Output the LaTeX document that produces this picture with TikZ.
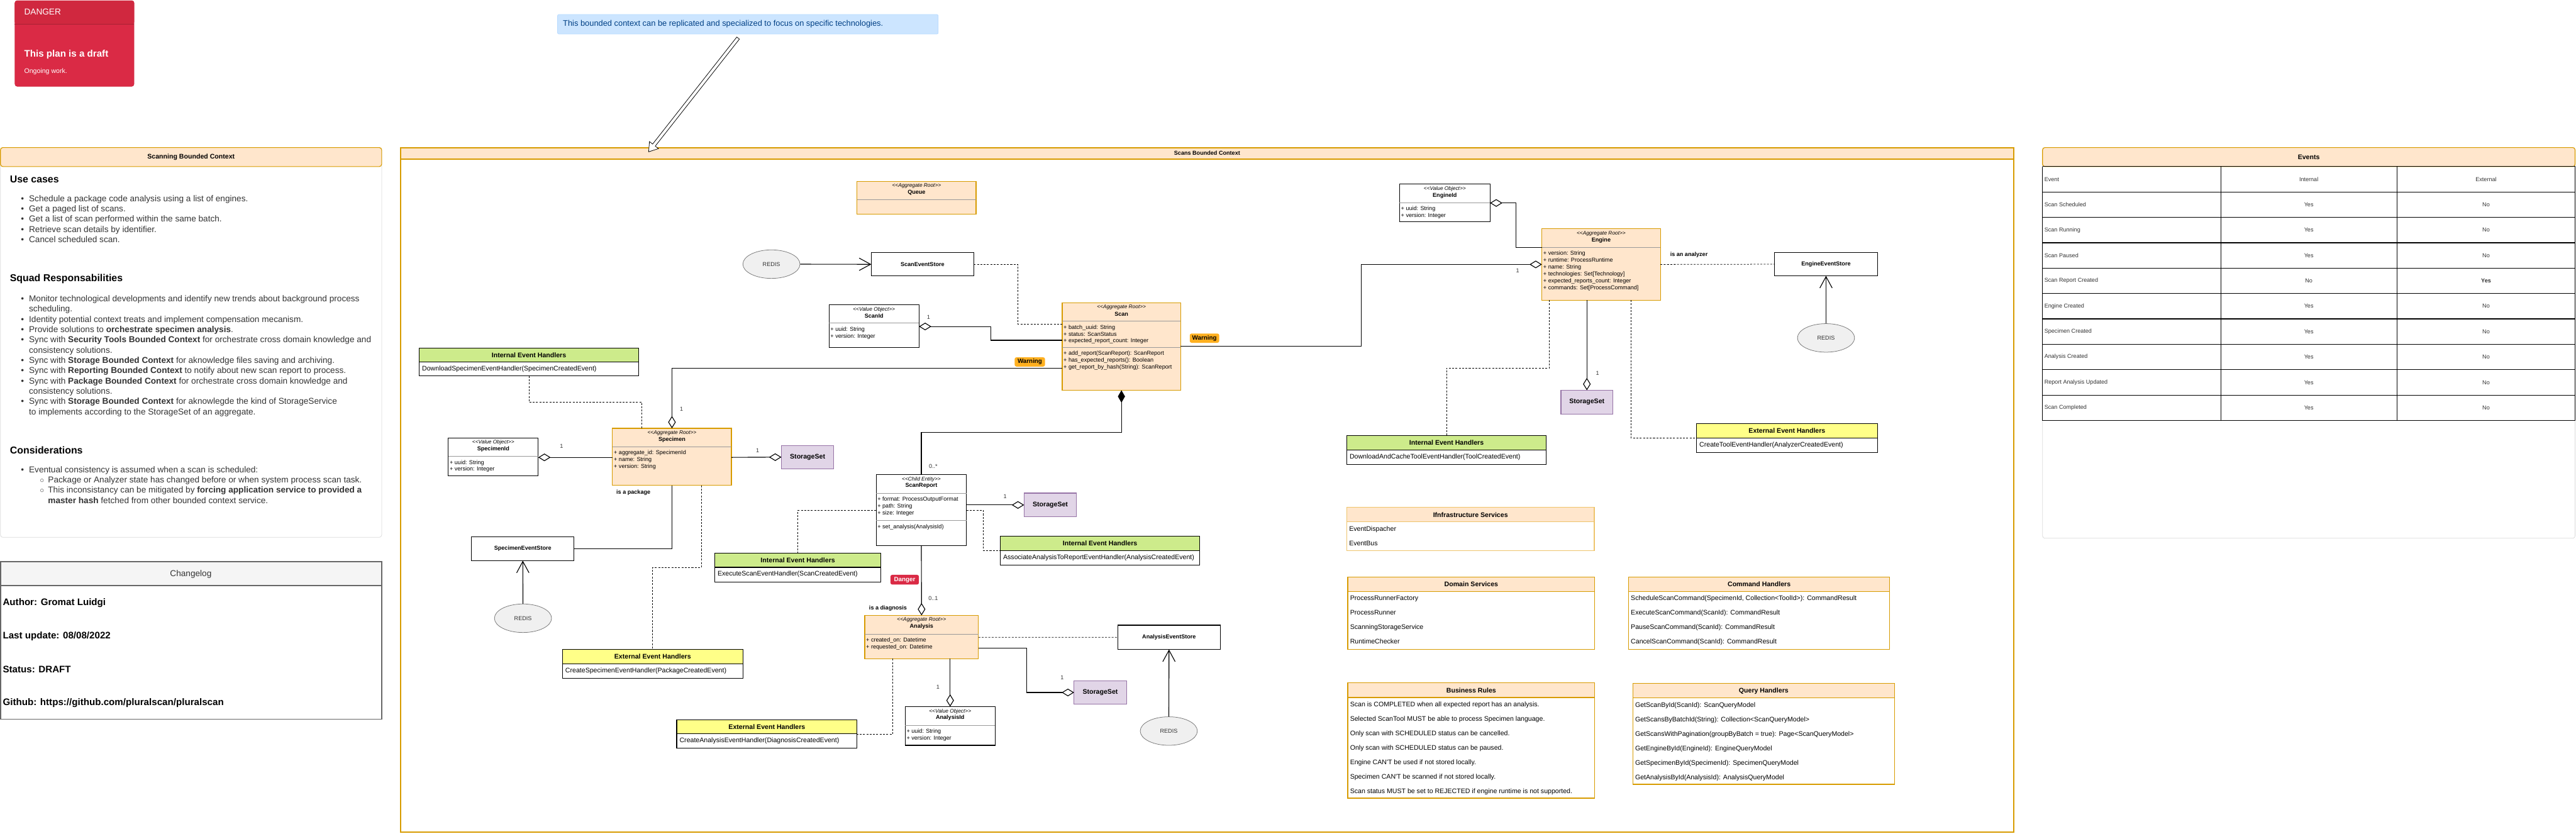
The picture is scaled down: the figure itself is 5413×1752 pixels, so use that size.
\documentclass[tikz,border=0pt]{standalone}
\usepackage{fontspec}
\setmainfont{Liberation Sans}
\usepackage{tikz}
\usetikzlibrary{arrows.meta,calc,positioning,shapes.geometric}

\definecolor{aggfill}{HTML}{FFE6CC}
\definecolor{aggline}{HTML}{D79B00}
\definecolor{infraline}{HTML}{EEC46C}
\definecolor{setfill}{HTML}{E1D5E7}
\definecolor{setline}{HTML}{9673A6}
\definecolor{ihfill}{HTML}{CDEB8B}
\definecolor{ehfill}{HTML}{FFFF88}
\definecolor{redisfill}{HTML}{F0F0F0}
\definecolor{redisline}{HTML}{777777}
\definecolor{dangerbg}{HTML}{DA2A45}
\definecolor{dangerhd}{HTML}{D0283F}
\definecolor{warnbg}{HTML}{FFB020}
\definecolor{notebg}{HTML}{CCE5FF}
\definecolor{noteline}{HTML}{B8DAFF}
\definecolor{notetxt}{HTML}{004085}
\definecolor{panelline}{HTML}{DADADA}
\definecolor{logbg}{HTML}{F5F5F5}
\definecolor{logline}{HTML}{666666}
\definecolor{bodytxt}{HTML}{333333}
\definecolor{divgray}{HTML}{999999}

\tikzset{
  txt/.style={inner sep=0pt, outer sep=0pt},
  stereo/.style={txt, font=\fontsize{11}{13}\selectfont\itshape},
  cname/.style={txt, font=\fontsize{12}{14}\selectfont\bfseries},
  attr/.style={txt, anchor=west, font=\fontsize{12}{14}\selectfont, text height=9pt, text depth=3pt},
  lbl/.style={txt, font=\fontsize{12}{14}\selectfont, text=bodytxt},
  blbl/.style={txt, font=\fontsize{12}{14}\selectfont\bfseries},
  htitle/.style={txt, font=\fontsize{14}{16}\selectfont\bfseries},
  hitem/.style={txt, anchor=west, font=\fontsize{14}{16}\selectfont, text height=10.5pt, text depth=3.5pt},
  aggbox/.style={draw=aggline, fill=aggfill, line width=1.5pt, inner sep=0pt, outer sep=0pt},
  vobox/.style={draw=black, fill=white, line width=1.5pt, inner sep=0pt, outer sep=0pt},
  storebox/.style={vobox, font=\fontsize{12}{14}\selectfont\bfseries, minimum width=215, minimum height=49},
  setbox/.style={draw=setline, fill=setfill, line width=1.5pt, inner sep=0pt, outer sep=0pt, font=\fontsize{14}{16}\selectfont\bfseries, minimum width=110, minimum height=49},
  redis/.style={ellipse, draw=redisline, fill=redisfill, line width=1pt, minimum width=120, minimum height=60, inner sep=0pt, font=\fontsize{12}{14}\selectfont, text=bodytxt},
  badge/.style={rounded corners=4pt, inner sep=0pt, font=\fontsize{13}{15}\selectfont\bfseries},
  divl/.style={divgray, line width=1pt},
  conn/.style={draw=black, line width=1.5pt},
  dashc/.style={draw=black, line width=1pt, dash pattern=on 4pt off 3pt},
  aggr/.style={conn, {Diamond[open,length=26pt,width=16pt]}-},
  aggrend/.style={conn, -{Diamond[open,length=26pt,width=16pt]}},
  comp/.style={conn, {Diamond[length=26pt,width=15pt]}-},
  feed/.style={conn, -{Straight Barb[length=24pt,width=26pt]}},
  cell/.style={txt, font=\fontsize{12}{14}\selectfont, text=bodytxt}
}

\newcommand{\umlclass}[8]{%
  \node[#5, minimum width=#3, minimum height=#4, anchor=north west] (#1) at (#2) {};
  \node[stereo] (#1-st) at ($(#1.north)+(0,10)$) {<{}<#6>{}>};
  \node[cname] (#1-nm) at ($(#1.north)+(0,24)$) {#7};
  \draw[divl] ($(#1.north west)+(0,39)$) -- ($(#1.north east)+(0,39)$);
  \foreach \fld [count=\row] in {#8}
    \node[attr] (#1-a\row) at ($(#1.north west)+(3,{38+14.4*\row})$) {\fld};
}
\newcommand{\handler}[7]{%
  \node[vobox, minimum width=#3, minimum height=#4, anchor=north west] (#1) at (#2) {};
  \draw[line width=1.5pt, fill=#5] (#1.north west) rectangle ($(#1.north east)+(0,30)$);
  \node[htitle] (#1-t) at ($(#1.north)+(0,15)$) {#6};
  \node[hitem] (#1-e) at ($(#1.north west)+(6,45)$) {#7};
}
\newcommand{\svcbox}[7]{%
  \node[draw=#5, fill=white, line width=1.5pt, inner sep=0pt, outer sep=0pt, minimum width=#3, minimum height=#4, anchor=north west] (#1) at (#2) {};
  \draw[draw=#5, fill=aggfill, line width=1.5pt] (#1.north west) rectangle ($(#1.north east)+(0,30.5)$);
  \node[htitle] (#1-t) at ($(#1.north)+(0,15.5)$) {#6};
  \foreach \fld [count=\row] in {#7}
    \node[hitem] (#1-i\row) at ($(#1.north west)+(5,{16.1+30.4*\row})$) {\fld};
}
\newcommand{\pbul}{\strut\makebox[17pt][l]{\textbullet}}
\newcommand{\pcont}{\strut\hspace*{17pt}}
\newcommand{\psub}{\strut\hspace*{40pt}\makebox[17pt][l]{$\circ$}}
\newcommand{\psubc}{\strut\hspace*{57pt}}

\begin{document}
\begin{tikzpicture}[x=1pt, y=-1pt]
\useasboundingbox (0,0) rectangle (5413,1752);

\node[draw=dangerhd, fill=dangerbg, rounded corners=5pt, line width=1pt, inner sep=0pt, minimum width=250, minimum height=180, anchor=north west] (danger) at (31,1) {};
\fill[dangerhd, rounded corners=5pt] (danger.north west) rectangle ($(danger.north east)+(0,50)$);
\draw[dangerhd!80!black, line width=1pt] ($(danger.north west)+(0,50)$) -- ($(danger.north east)+(0,50)$);
\node[txt, anchor=west, text=white, font=\fontsize{18}{21}\selectfont] (danger-h) at (51,25) {DANGER};
\node[txt, anchor=west, text=white, font=\fontsize{20}{24}\selectfont\bfseries] (danger-t) at (51,114) {This plan is a draft};
\node[txt, anchor=west, text=white, font=\fontsize{14}{16}\selectfont] (danger-s) at (51,151) {Ongoing work.};

\node[draw=noteline, fill=notebg, rounded corners=3pt, line width=1pt, inner sep=0pt, minimum width=800, minimum height=41, anchor=north west] (note) at (1171,30) {};
\node[txt, anchor=west, text=notetxt, font=\fontsize{17}{20}\selectfont] (note-t) at (1183,50.5) {This bounded context can be replicated and specialized to focus on specific technologies.};

\draw[panelline, line width=1pt, rounded corners=5pt] (1,310) rectangle (802,1129);
\filldraw[fill=aggfill, draw=aggline, line width=1.5pt, rounded corners=5pt] (1,310) rectangle (802,350);
\node[htitle] (scanning-t) at (401.5,330) {Scanning Bounded Context};
\node[txt, anchor=west, font=\fontsize{21}{25}\selectfont\bfseries] (uc-h) at (21,377) {Use cases};
\node[txt, anchor=north west, align=left, text=bodytxt, font=\fontsize{18}{21.6}\selectfont] (uc-l) at (44,408) {%
\pbul Schedule a package code analysis using a list of engines.\\
\pbul Get a paged list of scans.\\
\pbul Get a list of scan performed within the same batch.\\
\pbul Retrieve scan details by identifier.\\
\pbul Cancel scheduled scan.};
\node[txt, anchor=west, font=\fontsize{21}{25}\selectfont\bfseries] (sq-h) at (21,586) {Squad Responsabilities};
\node[txt, anchor=north west, align=left, text=bodytxt, font=\fontsize{18}{21.6}\selectfont] (sq-l) at (44,618.4) {%
\pbul Monitor technological developments and identify new trends about background process\\
\pcont scheduling.\\
\pbul Identity potential context treats and implement compensation mecanism.\\
\pbul Provide solutions to \textbf{orchestrate specimen analysis}.\\
\pbul Sync with \textbf{Security Tools Bounded Context} for orchestrate cross domain knowledge and\\
\pcont consistency solutions.\\
\pbul Sync with \textbf{Storage Bounded Context} for aknowledge files saving and archiving.\\
\pbul Sync with \textbf{Reporting Bounded Context} to notify about new scan report to process.\\
\pbul Sync with \textbf{Package Bounded Context} for orchestrate cross domain knowledge and\\
\pcont consistency solutions.\\
\pbul Sync with \textbf{Storage Bounded Context} for aknowlegde the kind of StorageService\\
\pcont to implements according to the StorageSet of an aggregate.};
\node[txt, anchor=west, font=\fontsize{21}{25}\selectfont\bfseries] (co-h) at (21,946) {Considerations};
\node[txt, anchor=north west, align=left, text=bodytxt, font=\fontsize{18}{21.6}\selectfont] (co-l) at (44,977.4) {%
\pbul Eventual consistency is assumed when a scan is scheduled:\\
\psub Package or Analyzer state has changed before or when system process scan task.\\
\psub This inconsistancy can be mitigated by \textbf{forcing application service to provided a}\\
\psubc\textbf{master hash} fetched from other bounded context service.};

\filldraw[fill=logbg, draw=logline, line width=2pt] (1,1180) rectangle (802,1230);
\draw[logline, line width=2pt] (1,1230) rectangle (802,1511);
\node[txt, text=bodytxt, font=\fontsize{18}{21}\selectfont] (log-t) at (401,1206) {Changelog};
\node[txt, anchor=west, font=\fontsize{20}{24}\selectfont\bfseries] (log-a) at (6,1267) {Author: Gromat Luidgi};
\node[txt, anchor=west, font=\fontsize{20}{24}\selectfont\bfseries] (log-u) at (6,1337) {Last update: 08/08/2022};
\node[txt, anchor=west, font=\fontsize{20}{24}\selectfont\bfseries] (log-s) at (6,1407) {Status: DRAFT};
\node[txt, anchor=west, font=\fontsize{20}{24}\selectfont\bfseries] (log-g) at (6,1477) {Github: https://github.com/pluralscan/pluralscan};

\draw[aggline, line width=2.5pt] (842,310) rectangle (4231,1748);
\filldraw[fill=aggfill, draw=aggline, line width=2.5pt] (842,310) rectangle (4231,334);
\node[cname] (scans-t) at (2536.5,322) {Scans Bounded Context};

\coordinate (arrTail) at (1551,80);
\coordinate (arrTip) at (1363,319);
\coordinate (arrBase) at ($(arrTip)!18pt!(arrTail)$);
\filldraw[fill=white, draw=black, line width=1pt] ($(arrTail)!3.5pt!90:(arrTip)$) -- ($(arrBase)!3.5pt!90:(arrTip)$) -- ($(arrBase)!12pt!90:(arrTip)$) -- (arrTip) -- ($(arrBase)!12pt!-90:(arrTip)$) -- ($(arrBase)!3.5pt!-90:(arrTip)$) -- ($(arrTail)!3.5pt!-90:(arrTip)$) -- cycle;

\node[aggbox, minimum width=250, minimum height=69, anchor=north west] (queue) at (1801,381) {};
\node[stereo] (queue-st) at ($(queue.north)+(0,10)$) {<{}<Aggregate Root>{}>};
\node[cname] (queue-nm) at ($(queue.north)+(0,24)$) {Queue};
\draw[divl] ($(queue.north west)+(0,38)$) -- ($(queue.north east)+(0,38)$);

\umlclass{scan}{2232,636}{249}{184}{aggbox}{Aggregate Root}{Scan}{+ batch\_uuid: String, + status: ScanStatus, + expected\_report\_count: Integer}
\draw[divl] ($(scan.north west)+(0,94.6)$) -- ($(scan.north east)+(0,94.6)$);
\foreach \fld [count=\row] in {+ add\_report(ScanReport): ScanReport, + has\_expected\_reports(): Boolean, + get\_report\_by\_hash(String): ScanReport}
  \node[attr] (scan-m\row) at ($(scan.north west)+(3,{92.6+14.6*\row})$) {\fld};
\umlclass{scanId}{1742,640}{189}{90}{vobox}{Value Object}{ScanId}{+ uuid: String, + version: Integer}
\umlclass{specimen}{1287,900}{250}{120}{aggbox}{Aggregate Root}{Specimen}{+ aggregate\_id: SpecimenId, + name: String, + version: String}
\umlclass{specimenId}{942,920}{189}{80}{vobox}{Value Object}{SpecimenId}{+ uuid: String, + version: Integer}
\umlclass{engine}{3240,480.6}{249}{150}{aggbox}{Aggregate Root}{Engine}{+ version: String, + runtime: ProcessRuntime, + name: String, + technologies: Set[Technology], + expected\_reports\_count: Integer, + commands: Set[ProcessCommand]}
\umlclass{engineId}{2941,387}{190}{79}{vobox}{Value Object}{EngineId}{+ uuid: String, + version: Integer}
\umlclass{scanReport}{1841,997}{190}{149}{vobox}{Child Entity}{ScanReport}{+ format: ProcessOutputFormat, + path: String, + size: Integer}
\draw[divl] ($(scanReport.north west)+(0,96.5)$) -- ($(scanReport.north east)+(0,96.5)$);
\node[attr] (scanReport-m1) at ($(scanReport.north west)+(3,110.6)$) {+ set\_analysis(AnalysisId)};
\umlclass{analysis}{1817,1293}{239}{91}{aggbox}{Aggregate Root}{Analysis}{+ created\_on: Datetime, + requested\_on: Datetime}
\umlclass{analysisId}{1902,1484.7}{189}{81.3}{vobox}{Value Object}{AnalysisId}{+ uuid: String, + version: Integer}

\node[storebox, anchor=north west] (scanStore) at (1831,531) {ScanEventStore};
\node[storebox, anchor=north west, minimum height=50.5] (specStore) at (991,1127.5) {SpecimenEventStore};
\node[storebox, anchor=north west, minimum height=51] (anStore) at (2349,1313.6) {AnalysisEventStore};
\node[storebox, anchor=north west, minimum width=216] (engStore) at (3729,530.6) {EngineEventStore};

\node[redis] (redisScan) at (1621,555) {REDIS};
\node[redis] (redisSpec) at (1099,1299) {REDIS};
\node[redis] (redisAn) at (2456,1536) {REDIS};
\node[redis] (redisEng) at (3837,710) {REDIS};

\node[setbox, anchor=north west] (setSpecimen) at (1642,936) {StorageSet};
\node[setbox, anchor=north west, minimum height=50] (setReport) at (2152,1036) {StorageSet};
\node[setbox, anchor=north west, minimum height=50] (setAnalysis) at (2257,1430) {StorageSet};
\node[setbox, anchor=north west, minimum width=109, minimum height=50] (setEngine) at (3280,820) {StorageSet};

\handler{iehSpecimen}{881,731}{461}{59}{ihfill}{Internal Event Handlers}{DownloadSpecimenEventHandler(SpecimenCreatedEvent)}
\handler{eehSpecimen}{1182,1364.5}{379}{60.5}{ehfill}{External Event Handlers}{CreateSpecimenEventHandler(PackageCreatedEvent)}
\handler{iehScan}{1502,1162}{349}{61}{ihfill}{Internal Event Handlers}{ExecuteScanEventHandler(ScanCreatedEvent)}
\handler{iehAnalysis}{2102,1127}{419}{60}{ihfill}{Internal Event Handlers}{AssociateAnalysisToReportEventHandler(AnalysisCreatedEvent)}
\handler{eehAnalysis}{1422,1512}{379}{60.5}{ehfill}{External Event Handlers}{CreateAnalysisEventHandler(DiagnosisCreatedEvent)}
\handler{iehEngine}{2830,915}{419}{60.5}{ihfill}{Internal Event Handlers}{DownloadAndCacheToolEventHandler(ToolCreatedEvent)}
\handler{eehEngine}{3565,890}{380}{60.5}{ehfill}{External Event Handlers}{CreateToolEventHandler(AnalyzerCreatedEvent)}

\svcbox{infra}{2830,1066}{520}{91.5}{infraline}{Ifnfrastructure Services}{EventDispacher, EventBus}
\svcbox{domain}{2832,1212}{519}{152.5}{aggline}{Domain Services}{ProcessRunnerFactory, ProcessRunner, ScanningStorageService, RuntimeChecker}
\svcbox{command}{3422,1212}{549}{152.5}{aggline}{Command Handlers}{{ScheduleScanCommand(SpecimenId, Collection<ToolId>): CommandResult}, ExecuteScanCommand(ScanId): CommandResult, PauseScanCommand(ScanId): CommandResult, CancelScanCommand(ScanId): CommandResult}
\svcbox{rules}{2832,1435}{519}{242}{aggline}{Business Rules}{Scan is COMPLETED when all expected report has an analysis., Selected ScanTool MUST be able to process Specimen language., Only scan with SCHEDULED status can be cancelled., Only scan with SCHEDULED status can be paused., Engine CAN\textquotesingle T be used if not stored locally., Specimen CAN\textquotesingle T be scanned if not stored locally., Scan status MUST be set to REJECTED if engine runtime is not supported.}
\svcbox{query}{3431,1436}{550}{212}{aggline}{Query Handlers}{GetScanById(ScanId): ScanQueryModel, GetScansByBatchId(String): Collection<ScanQueryModel>, GetScansWithPagination(groupByBatch = true): Page<ScanQueryModel>, GetEngineById(EngineId): EngineQueryModel, GetSpecimenById(SpecimenId): SpecimenQueryModel, GetAnalysisById(AnalysisId): AnalysisQueryModel}

\draw[feed] (redisScan) -- (scanStore);
\draw[dashc] (scanStore.east) -- ++(93,0) |- ($(scan.north west)+(0,45)$);
\draw[aggr] ($(scanId.north east)+(0,46)$) -- ++(151,0) |- ($(scan.north west)+(0,79)$);
\draw[aggr] (specimen.north) |- ($(scan.north west)+(0,138)$);
\draw[aggr] ($(engine.north west)+(0,75)$) -- ++(-380,0) |- ($(scan.north east)+(0,91.6)$);
\draw[aggr] ($(engineId.north east)+(0,39.5)$) -- ++(54,0) |- ($(engine.north west)+(0,39.4)$);
\draw[dashc] ($(engine.north east)+(0,75)$) -- (engStore.west);
\draw[feed] (redisEng) -- (engStore);
\draw[dashc] ($(engine.south west)+(16,0)$) -- ++(0,142.4) -| (iehEngine.north);
\draw[aggr] (setEngine.north) -- (setEngine.north |- engine.south);
\draw[dashc] ($(engine.south west)+(187,0)$) |- ($(eehEngine.north west)+(0,30)$);
\draw[aggr] ($(specimenId.north east)+(0,41)$) -- ($(specimen.north west)+(0,61)$);
\draw[aggrend] ($(specimen.north east)+(0,61)$) -- (setSpecimen.west);
\draw[dashc] (iehSpecimen.south) -- ++(0,55) -| ($(specimen.north west)+(62,0)$);
\draw[conn] (specimen.south) |- (specStore.east);
\draw[feed] (redisSpec) -- (specStore);
\draw[dashc] ($(specimen.south west)+(187,0)$) -- ++(0,172) -| (eehSpecimen.north);
\draw[comp] (scan.south) -- ++(0,88.7) -| (scanReport.north);
\draw[aggrend] ($(scanReport.north east)+(0,64)$) -- (setReport.west);
\draw[dashc] ($(scanReport.north west)+(0,75)$) -| (iehScan.north);
\draw[dashc] ($(scanReport.north east)+(0,75)$) -- ++(35,0) |- ($(iehAnalysis.north west)+(0,29.6)$);
\draw[aggr] (analysis.north) -- (scanReport.south);
\draw[dashc] ($(analysis.north east)+(0,46)$) -- (anStore.west);
\draw[aggrend] ($(analysis.north east)+(0,68.6)$) -- ++(101,0) |- (setAnalysis.west);
\draw[feed] (redisAn) -- (anStore);
\draw[aggr] (analysisId.north) -- (analysisId.north |- analysis.south);
\draw[dashc] ($(analysis.south west)+(59,0)$) |- ($(eehAnalysis.north east)+(0,30.4)$);

\node[lbl] (m-spec) at (1432,859) {1};
\node[lbl] (m-sid) at (1951,667) {1};
\node[lbl] (m-eng) at (3189,569) {1};
\node[lbl] (m-spid) at (1180,938) {1};
\node[lbl] (m-spset) at (1592,947) {1};
\node[lbl] (m-rep) at (1961,980) {0..*};
\node[lbl] (m-rset) at (2112,1043) {1};
\node[lbl] (m-eset) at (3357,784) {1};
\node[lbl] (m-an) at (1961,1257) {0..1};
\node[lbl] (m-anid) at (1971,1444) {1};
\node[lbl] (m-aset) at (2232,1424) {1};
\node[blbl] (l-pkg) at (1331,1035) {is a package};
\node[blbl] (l-diag) at (1866,1278) {is a diagnosis};
\node[blbl] (l-anl) at (3549,535) {is an analyzer};

\node[badge, fill=warnbg, minimum width=62, minimum height=19.5] (warn1) at (2531,710.5) {Warning};
\node[badge, fill=warnbg, minimum width=64, minimum height=19.5] (warn2) at (2164,760.5) {Warning};
\node[badge, fill=dangerbg, text=white, minimum width=60, minimum height=20.5] (dangerTag) at (1901,1218) {Danger};

\draw[panelline, line width=1pt, rounded corners=5pt] (4292,310) rectangle (5411,1131);
\filldraw[fill=aggfill, draw=aggline, line width=1.5pt, rounded corners=5pt] (4292,310) rectangle (5411,350);
\node[htitle] (events-t) at (4851.5,330) {Events};
\foreach \rw in {0,...,10}
  \draw[line width=1.5pt] (4292,{350+53.35*\rw}) -- (5411,{350+53.35*\rw});
\foreach \cx in {4292,4666.6,5036.5,5411}
  \draw[line width=1.5pt] (\cx,350) -- (\cx,883.5);
\foreach \ev/\evin/\evex [count=\rw] in {Event/Internal/External, Scan Scheduled/Yes/No, Scan Running/Yes/No, Scan Paused/Yes/No, Scan Report Created/No/\textbf{Yes}, Engine Created/Yes/No, Specimen Created/Yes/No, Analysis Created/Yes/No, Report Analysis Updated/Yes/No, Scan Completed/Yes/No} {
  \node[cell, anchor=west] (ev-a\rw) at (4296,{350+53.35*(\rw-0.5)}) {\ev};
  \node[cell] (ev-b\rw) at (4851.5,{350+53.35*(\rw-0.5)}) {\evin};
  \node[cell] (ev-c\rw) at (5224,{350+53.35*(\rw-0.5)}) {\evex};
}
\end{tikzpicture}
\end{document}
